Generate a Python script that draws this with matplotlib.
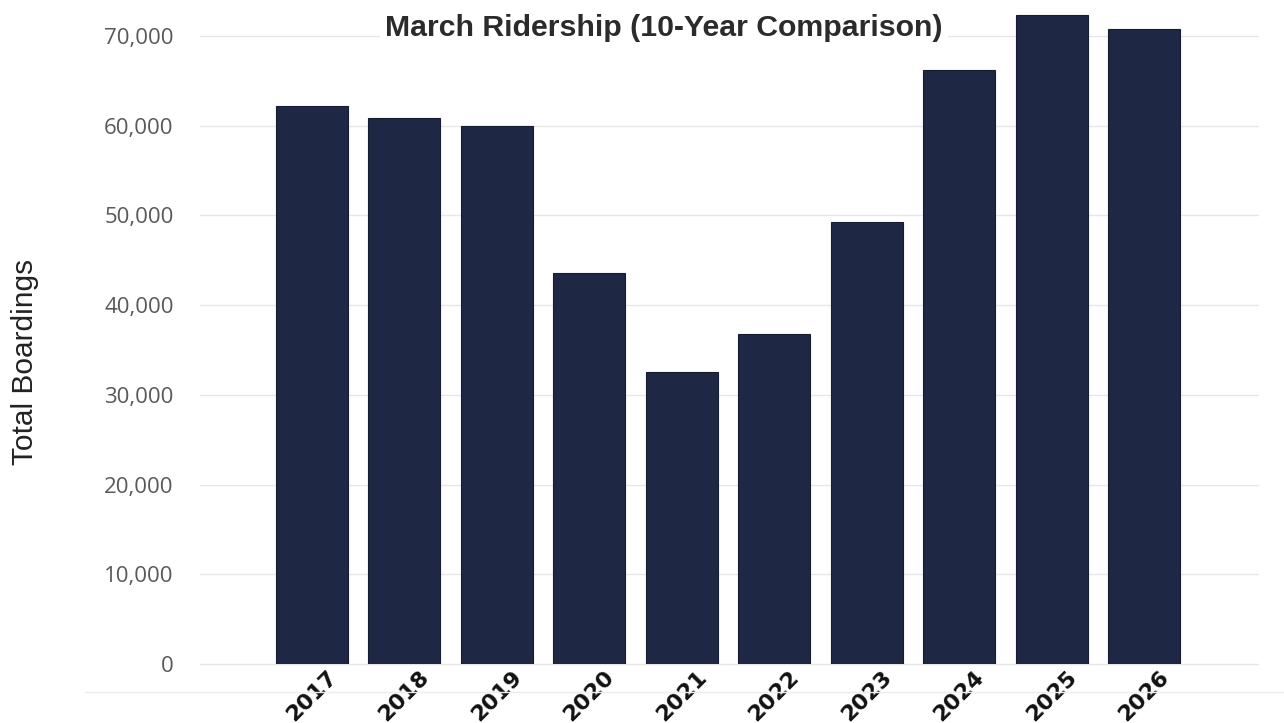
import matplotlib
matplotlib.use("Agg")
import matplotlib.pyplot as plt
from matplotlib.lines import Line2D
from matplotlib.ticker import FuncFormatter

years = ["2017", "2018", "2019", "2020", "2021", "2022", "2023", "2024", "2025", "2026"]
boardings = [62200, 60850, 59950, 43550, 32550, 36750, 49250, 66200, 72300, 70750]
yticks = [0, 10000, 20000, 30000, 40000, 50000, 60000, 70000]

bar_color = "#1e2845"

fig = plt.figure(figsize=(12.84, 7.23), dpi=100)
ax = fig.add_axes([200 / 1284, 1 - 664 / 723, 1058 / 1284, 664 / 723])

x = list(range(len(years)))
ax.bar(x, boardings, width=0.78, color=bar_color, edgecolor="#161d33", linewidth=0.8, zorder=3)

ax.set_xlim(-1.21, 10.23)
ax.set_ylim(0, 74000)
ax.set_yticks(yticks)
ax.yaxis.set_major_formatter(FuncFormatter(lambda v, p: f"{int(v):,}"))
ax.grid(axis="y", color="#e6e6e6", linewidth=1.0, zorder=0)
for gl in ax.get_ygridlines():
    gl.set_clip_on(False)

ax.set_xticks(x)
ax.set_xticklabels(years, rotation=45, ha="center", fontsize=16,
                   fontweight="bold", family="DejaVu Sans", color="#111111")
ax.tick_params(axis="x", length=0, pad=2)
ax.tick_params(axis="y", length=0, pad=19, labelsize=16, labelcolor="#595959")
for lab in ax.get_yticklabels():
    lab.set_family("Open Sans")

for s in ax.spines.values():
    s.set_visible(False)

fig.text(25 / 1284, 1 - 362 / 723, "Total Boardings", rotation=90, ha="center", va="center",
         fontsize=21.5, family="Liberation Sans", color="#222222")

fig.text(664 / 1284, 1 - 28 / 723, "March Ridership (10-Year Comparison)", ha="center", va="center",
         fontsize=21.8, fontweight="bold", family="Liberation Sans", color="#2b2b2b",
         bbox=dict(facecolor="white", edgecolor="none", pad=4), zorder=10)

fig.add_artist(Line2D([85 / 1284, 1.0], [1 - 692 / 723, 1 - 692 / 723],
                      transform=fig.transFigure, color="#ececec", linewidth=1.0))

fig.savefig("out.png", dpi=100)
